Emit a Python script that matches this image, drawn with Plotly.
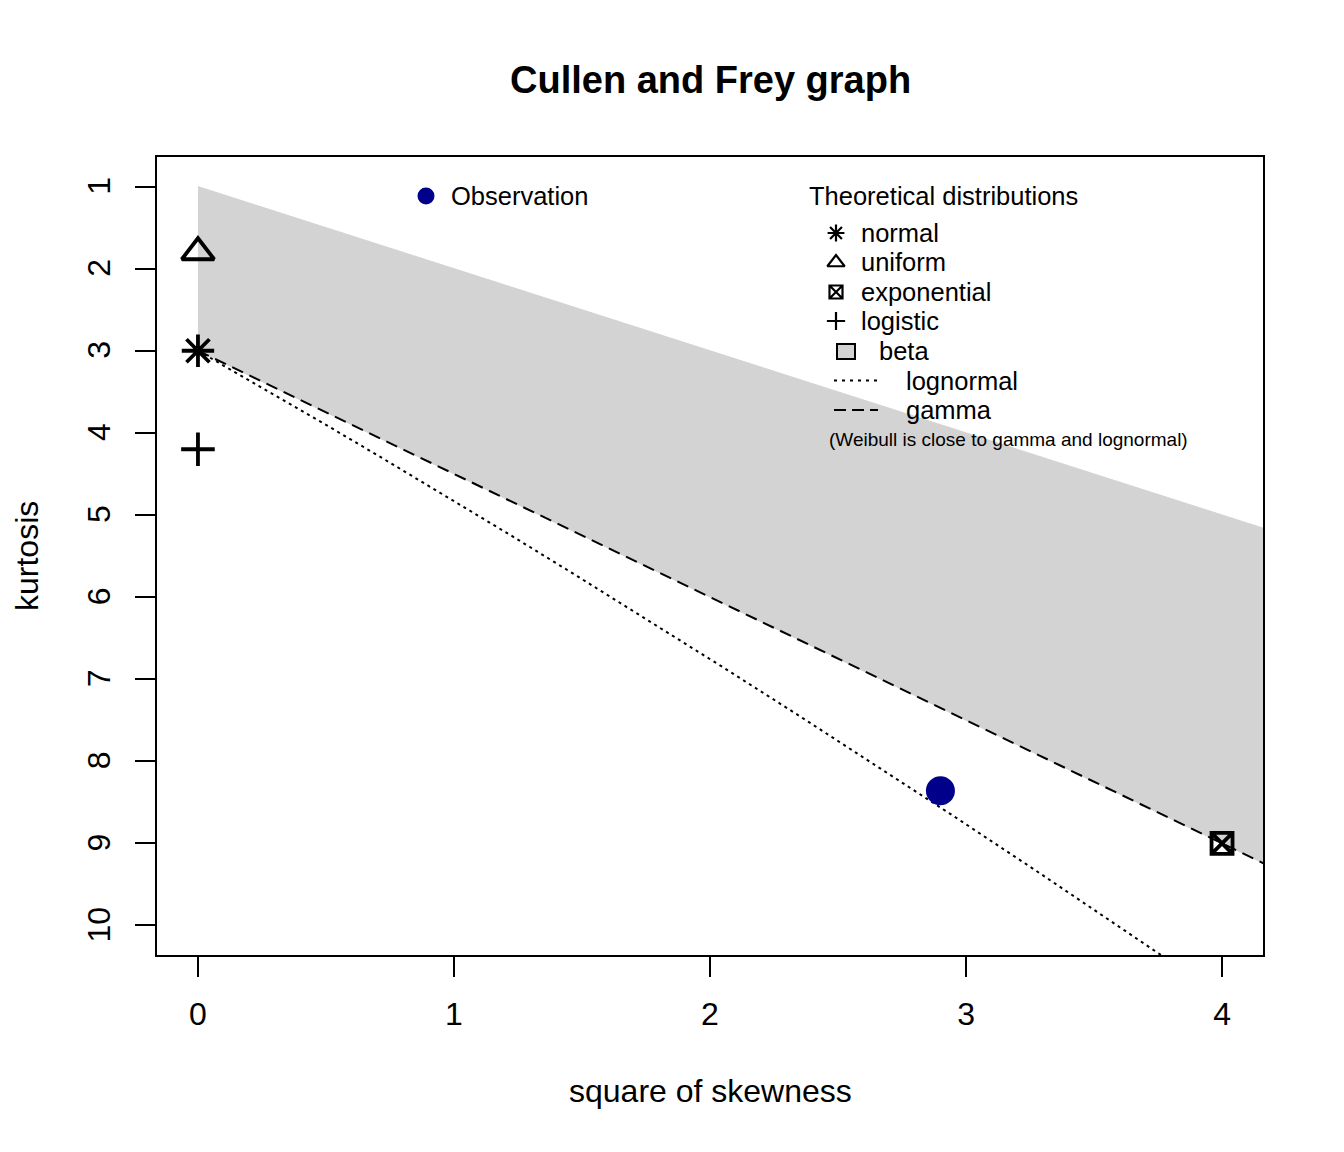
import plotly.graph_objects as go

# ---------------- data ----------------
obs_skew2 = [2.90]
obs_kurt = [8.36]

theo_names = ["normal", "uniform", "exponential", "logistic"]
theo_skew2 = [0.0, 0.0, 4.0, 0.0]
theo_kurt = [3.0, 1.8, 9.0, 4.2]
theo_symbols = ["asterisk-open", "triangle-up-open", "square-x-open", "cross-thin-open"]

beta_upper_skew2 = [0.0, 5.0]
beta_upper_kurt = [1.0, 6.0]

gamma_skew2 = [0.0, 1.0, 2.0, 3.0, 4.0, 5.0]
gamma_kurt = [3.0, 4.5, 6.0, 7.5, 9.0, 10.5]

lognormal_skew2 = [0.0, 0.229, 0.465, 0.709, 0.961, 1.221, 1.488, 1.764,
                   2.048, 2.340, 2.641, 2.950, 3.267, 3.593, 3.928]
lognormal_kurt = [3.0, 3.409, 3.838, 4.287, 4.756, 5.246, 5.758, 6.292,
                  6.850, 7.430, 8.035, 8.665, 9.320, 10.002, 10.710]

x_ticks = [0, 1, 2, 3, 4]
y_ticks = [1, 2, 3, 4, 5, 6, 7, 8, 9, 10]

legend_items = ["normal", "uniform", "exponential", "logistic", "beta", "lognormal", "gamma"]

# ---------------- layout helpers ----------------
# reference-image pixel frame of the plotting region
L, R, T, B = 157, 1263, 157, 955
PAGE_OFF = 8                      # browser body margin
W, H = 1344 - 2 * PAGE_OFF, 1152 - 2 * PAGE_OFF
FONT = "Liberation Sans, Arial, Helvetica, sans-serif"


def px(xp):
    return (xp - L) / (R - L)


def py(yp):
    return (B - yp) / (B - T)


fig = go.Figure()

# beta region
poly_x = beta_upper_skew2 + gamma_skew2[::-1]
poly_y = beta_upper_kurt + gamma_kurt[::-1]
fig.add_trace(go.Scatter(x=poly_x, y=poly_y, fill="toself", fillcolor="#D3D3D3",
                         line=dict(color="#D3D3D3", width=1), mode="lines",
                         hoverinfo="skip", showlegend=False))

# lognormal & gamma lines
fig.add_trace(go.Scatter(x=lognormal_skew2, y=lognormal_kurt, mode="lines",
                         line=dict(color="black", width=2, dash="3px,4px"),
                         hoverinfo="skip", showlegend=False))
fig.add_trace(go.Scatter(x=gamma_skew2, y=gamma_kurt, mode="lines",
                         line=dict(color="black", width=2, dash="12px,7px"),
                         hoverinfo="skip", showlegend=False))

# theoretical points
theo_sizes = [27, 28, 21, 24]
for nm, xs, ys, sym, sz in zip(theo_names, theo_skew2, theo_kurt, theo_symbols, theo_sizes):
    fig.add_trace(go.Scatter(x=[xs], y=[ys], mode="markers", name=nm,
                             marker=dict(symbol=sym, size=sz, color="black",
                                         line=dict(color="black", width=3.8)),
                             cliponaxis=False, showlegend=False))

# observation
fig.add_trace(go.Scatter(x=obs_skew2, y=obs_kurt, mode="markers", name="Observation",
                         marker=dict(symbol="circle", size=29, color="#00008B"),
                         showlegend=False))

# ---------------- legend glyphs (pixel overlay axes) ----------------
leg_sym_x = 836
leg_rows_y = [233, 262.5, 292, 321, 351, 380.5, 410]
leg_syms = ["asterisk-open", "triangle-up-open", "square-x-open", "cross-thin-open"]
leg_sizes = [14, 15, 13, 13]
for i, (sym, sz) in enumerate(zip(leg_syms, leg_sizes)):
    fig.add_trace(go.Scatter(x=[leg_sym_x], y=[leg_rows_y[i]], mode="markers",
                             xaxis="x2", yaxis="y2", hoverinfo="skip", showlegend=False,
                             marker=dict(symbol=sym, size=sz, color="black",
                                         line=dict(color="black", width=2.2))))
fig.add_trace(go.Scatter(x=[426], y=[196], mode="markers", xaxis="x2", yaxis="y2",
                         hoverinfo="skip", showlegend=False,
                         marker=dict(symbol="circle", size=17, color="#00008B")))

shapes = [
    dict(type="rect", xref="x2", yref="y2", x0=837, x1=855, y0=344, y1=359,
         fillcolor="#D3D3D3", line=dict(color="black", width=2)),
    dict(type="line", xref="x2", yref="y2", x0=834, x1=878, y0=380.5, y1=380.5,
         line=dict(color="black", width=2, dash="3px,5px")),
    dict(type="line", xref="x2", yref="y2", x0=834, x1=878, y0=410, y1=410,
         line=dict(color="black", width=2, dash="12px,6px")),
]

annotations = []
# title
annotations.append(dict(text="<b>Cullen and Frey graph</b>", x=px(710), y=py(80),
                        xref="paper", yref="paper", showarrow=False,
                        xanchor="center", yanchor="middle",
                        font=dict(family=FONT, size=38, color="black")))
# axis titles
annotations.append(dict(text="square of skewness", x=px(710), y=py(1091),
                        xref="paper", yref="paper", showarrow=False,
                        xanchor="center", yanchor="middle",
                        font=dict(family=FONT, size=32, color="black")))
annotations.append(dict(text="kurtosis", x=px(27), y=py(556), textangle=-90,
                        xref="paper", yref="paper", showarrow=False,
                        xanchor="center", yanchor="middle",
                        font=dict(family=FONT, size=32, color="black")))
# legend texts
annotations.append(dict(text="Observation", x=px(449), y=py(196),
                        xref="paper", yref="paper", showarrow=False,
                        xanchor="left", yanchor="middle",
                        font=dict(family=FONT, size=25.5, color="black")))
annotations.append(dict(text="Theoretical distributions", x=px(943), y=py(196),
                        xref="paper", yref="paper", showarrow=False,
                        xanchor="center", yanchor="middle",
                        font=dict(family=FONT, size=25.5, color="black")))
leg_text_x = [859, 859, 859, 859, 877, 904, 904]
for i, nm in enumerate(legend_items):
    annotations.append(dict(text=nm, x=px(leg_text_x[i]), y=py(leg_rows_y[i]),
                            xref="paper", yref="paper", showarrow=False,
                            xanchor="left", yanchor="middle",
                            font=dict(family=FONT, size=25.5, color="black")))
annotations.append(dict(text="(Weibull is close to gamma and lognormal)", x=px(827), y=py(439),
                        xref="paper", yref="paper", showarrow=False,
                        xanchor="left", yanchor="middle",
                        font=dict(family=FONT, size=19, color="black")))

axis_common = dict(showgrid=False, zeroline=False, showline=True, mirror=True,
                   linecolor="black", linewidth=2, ticks="outside", ticklen=20,
                   tickwidth=2, tickcolor="black",
                   tickfont=dict(family=FONT, size=32, color="black"))

fig.update_layout(
    width=W, height=H,
    margin=dict(l=L - PAGE_OFF, r=W - (R - PAGE_OFF), t=T - PAGE_OFF,
                b=H - (B - PAGE_OFF), pad=0),
    paper_bgcolor="white", plot_bgcolor="white",
    showlegend=False,
    xaxis=dict(range=[-0.16, 4.16], tickvals=x_ticks, ticktext=[str(v) for v in x_ticks],
               ticklabelstandoff=10, **axis_common),
    yaxis=dict(range=[10.36, 0.64], tickvals=y_ticks, ticktext=[str(v) for v in y_ticks],
               tickangle=-90, ticklabelstandoff=12, ticklabelshift=-4, **axis_common),
    xaxis2=dict(overlaying="x", range=[L, R], visible=False, anchor="y2"),
    yaxis2=dict(overlaying="y", range=[B, T], visible=False, anchor="x2"),
    shapes=shapes,
    annotations=annotations,
    hovermode=False,
)

fig.write_html("out.html")
